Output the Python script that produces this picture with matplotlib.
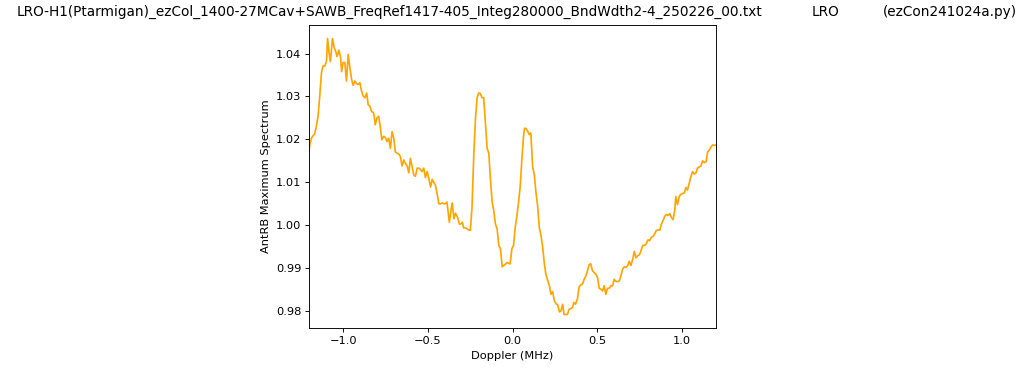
import matplotlib
matplotlib.use("Agg")
import matplotlib.pyplot as plt
import numpy as np

title_file = "LRO-H1(Ptarmigan)_ezCol_1400-27MCav+SAWB_FreqRef1417-405_Integ280000_BndWdth2-4_250226_00.txt"
title_site = "LRO"
title_prog = "(ezCon241024a.py)"

doppler = [
    -1.203, -1.197, -1.187, -1.178, -1.168, -1.158, -1.148, -1.138, -1.128, -1.119,
    -1.108, -1.098, -1.092, -1.083, -1.075, -1.063, -1.053, -1.043, -1.036, -1.025,
    -1.015, -1.009, -1.000, -0.990, -0.980, -0.970, -0.960, -0.950, -0.941, -0.931,
    -0.921, -0.911, -0.901, -0.891, -0.881, -0.871, -0.861, -0.852, -0.842, -0.832,
    -0.820, -0.810, -0.800, -0.790, -0.781, -0.771, -0.761, -0.751, -0.741, -0.731,
    -0.721, -0.711, -0.701, -0.692, -0.682, -0.672, -0.662, -0.652, -0.642, -0.632,
    -0.622, -0.612, -0.603, -0.593, -0.583, -0.573, -0.563, -0.553, -0.544, -0.534,
    -0.524, -0.514, -0.504, -0.494, -0.484, -0.474, -0.464, -0.455, -0.445, -0.435,
    -0.425, -0.415, -0.407, -0.397, -0.387, -0.373, -0.363, -0.356, -0.346, -0.336,
    -0.324, -0.314, -0.304, -0.296, -0.289, -0.279, -0.269, -0.259, -0.249, -0.239,
    -0.229, -0.219, -0.209, -0.200, -0.190, -0.180, -0.170, -0.160, -0.150, -0.140,
    -0.130, -0.120, -0.111, -0.101, -0.091, -0.081, -0.071, -0.061, -0.052, -0.041,
    -0.031, -0.022, -0.014, -0.004, 0.006, 0.016, 0.025, 0.036, 0.046, 0.055,
    0.065, 0.071, 0.081, 0.091, 0.099, 0.108, 0.119, 0.129, 0.138, 0.148,
    0.158, 0.168, 0.178, 0.188, 0.197, 0.207, 0.218, 0.227, 0.237, 0.247,
    0.257, 0.267, 0.277, 0.286, 0.296, 0.304, 0.314, 0.324, 0.334, 0.344,
    0.354, 0.362, 0.372, 0.384, 0.393, 0.403, 0.413, 0.423, 0.433, 0.443,
    0.452, 0.462, 0.472, 0.482, 0.492, 0.502, 0.512, 0.522, 0.532, 0.541,
    0.551, 0.561, 0.571, 0.581, 0.591, 0.600, 0.611, 0.621, 0.630, 0.640,
    0.650, 0.660, 0.670, 0.680, 0.689, 0.699, 0.710, 0.719, 0.729, 0.739,
    0.749, 0.759, 0.769, 0.781, 0.790, 0.800, 0.810, 0.820, 0.830, 0.840,
    0.849, 0.860, 0.870, 0.879, 0.889, 0.899, 0.909, 0.919, 0.929, 0.938,
    0.948, 0.958, 0.964, 0.974, 0.984, 0.994, 1.004, 1.014, 1.024, 1.033,
    1.043, 1.053, 1.063, 1.073, 1.083, 1.092, 1.103, 1.113, 1.122, 1.133,
    1.143, 1.152, 1.162, 1.173, 1.182, 1.192, 1.202,
]

spectrum = [
    1.0168, 1.0187, 1.0203, 1.0208, 1.0213, 1.0230, 1.0254, 1.0301, 1.0355, 1.0371,
    1.0371, 1.0383, 1.0435, 1.0402, 1.0381, 1.0435, 1.0414, 1.0404, 1.0393, 1.0408,
    1.0391, 1.0358, 1.0379, 1.0379, 1.0336, 1.0398, 1.0367, 1.0340, 1.0326, 1.0336,
    1.0330, 1.0328, 1.0332, 1.0312, 1.0301, 1.0297, 1.0308, 1.0281, 1.0277, 1.0265,
    1.0262, 1.0234, 1.0250, 1.0254, 1.0230, 1.0199, 1.0207, 1.0205, 1.0195, 1.0203,
    1.0179, 1.0218, 1.0203, 1.0171, 1.0168, 1.0166, 1.0160, 1.0138, 1.0152, 1.0144,
    1.0138, 1.0122, 1.0156, 1.0136, 1.0117, 1.0114, 1.0133, 1.0133, 1.0130, 1.0125,
    1.0133, 1.0111, 1.0125, 1.0109, 1.0089, 1.0107, 1.0099, 1.0093, 1.0074, 1.0050,
    1.0050, 1.0052, 1.0050, 1.0050, 1.0054, 1.0007, 1.0035, 1.0052, 1.0015, 1.0028,
    1.0018, 1.0003, 1.0003, 1.0007, 0.9994, 0.9994, 0.9992, 0.9989, 0.9988, 1.0042,
    1.0160, 1.0246, 1.0297, 1.0308, 1.0307, 1.0297, 1.0297, 1.0238, 1.0179, 1.0168,
    1.0105, 1.0054, 1.0035, 1.0003, 0.9992, 0.9953, 0.9945, 0.9903, 0.9906, 0.9910,
    0.9913, 0.9911, 0.9910, 0.9945, 0.9953, 0.9995, 1.0019, 1.0054, 1.0093, 1.0152,
    1.0207, 1.0226, 1.0225, 1.0218, 1.0211, 1.0215, 1.0136, 1.0117, 1.0078, 1.0046,
    0.9995, 0.9976, 0.9949, 0.9910, 0.9886, 0.9872, 0.9859, 0.9839, 0.9845, 0.9824,
    0.9817, 0.9814, 0.9798, 0.9800, 0.9816, 0.9792, 0.9792, 0.9792, 0.9804, 0.9806,
    0.9808, 0.9820, 0.9816, 0.9830, 0.9856, 0.9861, 0.9863, 0.9874, 0.9882, 0.9894,
    0.9908, 0.9910, 0.9894, 0.9890, 0.9886, 0.9878, 0.9853, 0.9851, 0.9847, 0.9859,
    0.9839, 0.9853, 0.9853, 0.9859, 0.9859, 0.9874, 0.9869, 0.9869, 0.9870, 0.9882,
    0.9898, 0.9903, 0.9902, 0.9906, 0.9916, 0.9906, 0.9921, 0.9939, 0.9924, 0.9929,
    0.9931, 0.9941, 0.9953, 0.9953, 0.9957, 0.9966, 0.9964, 0.9972, 0.9974, 0.9980,
    0.9988, 0.9989, 0.9989, 1.0003, 1.0011, 1.0021, 1.0025, 1.0023, 1.0027, 1.0018,
    1.0013, 1.0035, 1.0067, 1.0048, 1.0067, 1.0072, 1.0074, 1.0075, 1.0088, 1.0082,
    1.0097, 1.0113, 1.0125, 1.0119, 1.0122, 1.0133, 1.0136, 1.0138, 1.0150, 1.0146,
    1.0148, 1.0171, 1.0175, 1.0183, 1.0187, 1.0186, 1.0187,
]

# drawn as a 12.5 in wide figure, saved small so everything scales down together
dpi = 81.92
fig = plt.figure(figsize=(1024 / dpi, 372 / dpi), dpi=dpi)
ax = fig.add_axes([0.302, 0.1175, 0.397, 0.816])

ax.plot(doppler, spectrum, color='orange', linewidth=1.5)
ax.set_xlim(-1.2, 1.2)
ax.set_xlabel('Doppler (MHz)')
ax.set_ylabel('AntRB Maximum Spectrum')

fig.text(0.0166, 0.967, title_file, fontsize=12, ha='left', va='center')
fig.text(0.793, 0.967, title_site, fontsize=12, ha='left', va='center')
fig.text(0.862, 0.967, title_prog, fontsize=12, ha='left', va='center')

fig.savefig('out.png', dpi=dpi)
